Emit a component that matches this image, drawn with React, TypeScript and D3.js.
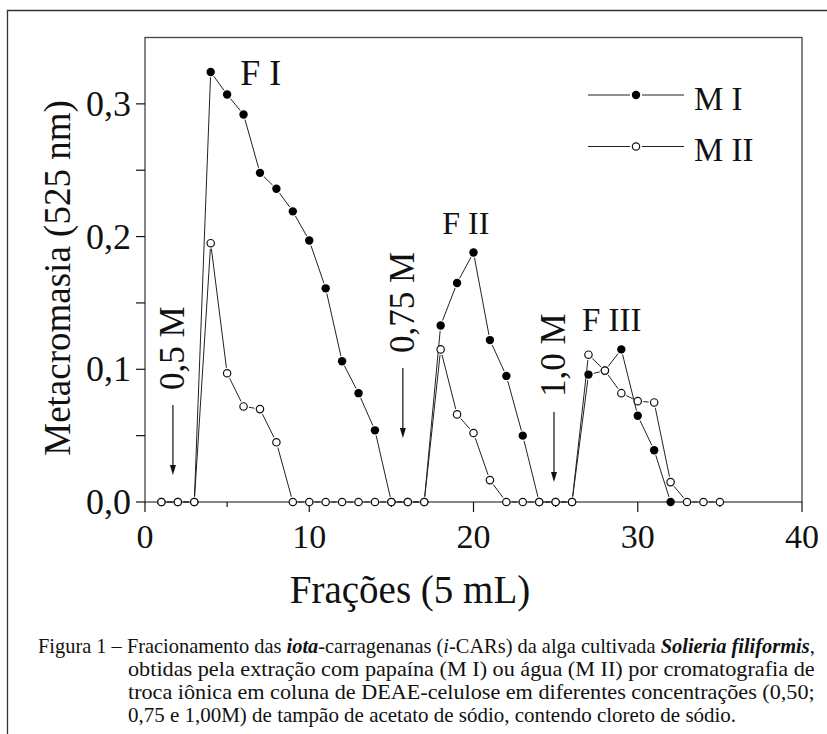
import React, { useLayoutEffect, useRef, useState } from 'react';
import * as d3 from 'd3';

// fraction numbers and metachromasia readings (525 nm)
const fractionsMI = [1, 2, 3, 4, 5, 6, 7, 8, 9, 10, 11, 12, 13, 14, 15, 16, 17, 18, 19, 20, 21, 22, 23, 24, 25, 26, 27, 28, 29, 30, 31, 32];
const valuesMI = [0, 0, 0, 0.324, 0.307, 0.292, 0.248, 0.236, 0.219, 0.197, 0.161, 0.106, 0.082, 0.054, 0, 0, 0, 0.133, 0.165, 0.188, 0.122, 0.095, 0.05, 0, 0, 0, 0.096, 0.099, 0.115, 0.065, 0.039, 0];

const fractionsMII = [1, 2, 3, 4, 5, 6, 7, 8, 9, 10, 11, 12, 13, 14, 15, 16, 17, 18, 19, 20, 21, 22, 23, 24, 25, 26, 27, 28, 29, 30, 31, 32, 33, 34, 35];
const valuesMII = [0, 0, 0, 0.195, 0.097, 0.072, 0.07, 0.045, 0, 0, 0, 0, 0, 0, 0, 0, 0, 0.115, 0.066, 0.052, 0.0165, 0, 0, 0, 0, 0, 0.111, 0.099, 0.082, 0.076, 0.075, 0.015, 0, 0, 0];

const xTicks = [0, 10, 20, 30, 40];
const xMinorTicks = [5, 15, 25, 35];
const yTicks = [0, 0.1, 0.2, 0.3];
const yMinorTicks = [0.05, 0.15, 0.25];

// buffer additions (arrows) and peak labels
const buffers = [
  { x: 1.7, label: '0,5 M', top: 405, textBottom: 390 },
  { x: 15.7, label: '0,75 M', top: 368, textBottom: 353 },
  { x: 24.9, label: '1,0 M', top: 412, textBottom: 397 },
];
const peaks = [
  { x: 5.8, y: 0.314, label: 'F I', size: 36 },
  { x: 18.1, y: 0.202, label: 'F II', size: 32 },
  { x: 26.6, y: 0.129, label: 'F III', size: 33 },
];

const W = 827;
const H = 734;
const FONT = "'Liberation Serif', 'Times New Roman', Times, serif";
const INK = '#111';

const x = d3.scaleLinear().domain([0, 40]).range([145, 802]);
const y = d3.scaleLinear().domain([0, 0.35]).range([502, 37.5]);

function gappedSegments(xs: number[], ys: number[], gap: number) {
  const pts = xs.map((d, i) => [x(d), y(ys[i])]);
  const segs: string[] = [];
  for (let i = 0; i < pts.length - 1; i++) {
    const [x0, y0] = pts[i];
    const [x1, y1] = pts[i + 1];
    const len = Math.hypot(x1 - x0, y1 - y0);
    if (len <= gap * 2) continue;
    const ux = (x1 - x0) / len;
    const uy = (y1 - y0) / len;
    const p = d3.path();
    p.moveTo(x0 + ux * gap, y0 + uy * gap);
    p.lineTo(x1 - ux * gap, y1 - uy * gap);
    segs.push(p.toString());
  }
  return segs;
}

// caption line squeezed horizontally to a target width (the scan is condensed)
function CaptionLine({ x0, y0, width, children }: { x0: number; y0: number; width: number; children: React.ReactNode }) {
  const ref = useRef<SVGTextElement>(null);
  const [sx, setSx] = useState(0.9);
  useLayoutEffect(() => {
    if (ref.current) {
      const w = ref.current.getBBox().width;
      if (w > 0) setSx(width / w);
    }
  }, [width]);
  return (
    <g transform={`translate(${x0},${y0}) scale(${sx},1)`}>
      <text ref={ref} x={0} y={0}>{children}</text>
    </g>
  );
}

export default function App() {
  const segMI = gappedSegments(fractionsMI, valuesMI, 5.3);
  const segMII = gappedSegments(fractionsMII, valuesMII, 5.5);

  return (
    <svg width={W} height={H} style={{ position: 'absolute', left: 0, top: 0, background: '#fff', fontFamily: FONT }}>
      {/* outer figure frame */}
      <path d={`M7.5,${H} V10.5 H${W}`} fill="none" stroke="#333" strokeWidth={1.3} />

      {/* plot box */}
      <rect x={145} y={37.5} width={657} height={464.5} fill="none" stroke="#444" strokeWidth={1.3} />

      {/* x axis ticks */}
      {xTicks.map(t => (
        <g key={'xt' + t}>
          <line x1={x(t)} x2={x(t)} y1={502} y2={512} stroke={INK} strokeWidth={1.2} />
          <text x={x(t)} y={548} textAnchor="middle" fontSize={34} fill={INK}>{t}</text>
        </g>
      ))}
      {xMinorTicks.map(t => (
        <line key={'xm' + t} x1={x(t)} x2={x(t)} y1={502} y2={507} stroke={INK} strokeWidth={1.2} />
      ))}

      {/* y axis ticks */}
      {yTicks.map(t => (
        <g key={'yt' + t}>
          <line x1={136} x2={145} y1={y(t)} y2={y(t)} stroke={INK} strokeWidth={1.2} />
          <text x={131} y={y(t) + 12} textAnchor="end" fontSize={36} fill={INK}>{d3.format('.1f')(t).replace('.', ',')}</text>
        </g>
      ))}
      {yMinorTicks.map(t => (
        <line key={'ym' + t} x1={136} x2={145} y1={y(t)} y2={y(t)} stroke={INK} strokeWidth={1.2} />
      ))}

      {/* axis titles */}
      <text x={410} y={603} textAnchor="middle" fontSize={39} fill={INK}>Frações (5 mL)</text>
      <text transform="translate(70,278) rotate(-90)" textAnchor="middle" fontSize={37} fill={INK}>Metacromasia (525 nm)</text>

      {/* series lines */}
      {segMI.map((d, i) => <path key={'lmi' + i} d={d} stroke="#222" strokeWidth={1} fill="none" />)}
      {segMII.map((d, i) => <path key={'lmii' + i} d={d} stroke="#222" strokeWidth={1} fill="none" />)}

      {/* markers */}
      {fractionsMI.map((f, i) => (
        <circle key={'mi' + i} cx={x(f)} cy={y(valuesMI[i])} r={4.2} fill="#000" />
      ))}
      {fractionsMII.map((f, i) => (
        <circle key={'mii' + i} cx={x(f)} cy={y(valuesMII[i])} r={3.7} fill="#fff" stroke="#111" strokeWidth={1.2} />
      ))}

      {/* buffer arrows and labels */}
      {buffers.map(b => (
        <g key={b.label}>
          <line x1={x(b.x)} x2={x(b.x)} y1={b.top} y2={b.top + 62} stroke={INK} strokeWidth={1.2} />
          <path d={`M${x(b.x) - 3},${b.top + 60} L${x(b.x) + 3},${b.top + 60} L${x(b.x)},${b.top + 70} Z`} fill={INK} />
          <text transform={`translate(${x(b.x) + 11},${b.textBottom}) rotate(-90)`} fontSize={35} fill={INK}>{b.label}</text>
        </g>
      ))}

      {/* peak labels */}
      {peaks.map(p => (
        <text key={p.label} x={x(p.x)} y={y(p.y)} fontSize={p.size} fill={INK}>{p.label}</text>
      ))}

      {/* legend */}
      <g>
        <line x1={588} x2={630} y1={95} y2={95} stroke="#222" strokeWidth={1} />
        <line x1={642} x2={684} y1={95} y2={95} stroke="#222" strokeWidth={1} />
        <circle cx={636} cy={95} r={4.2} fill="#000" />
        <text x={694} y={110} fontSize={33} fill={INK}>M I</text>
        <line x1={588} x2={630} y1={146.5} y2={146.5} stroke="#222" strokeWidth={1} />
        <line x1={642} x2={684} y1={146.5} y2={146.5} stroke="#222" strokeWidth={1} />
        <circle cx={636} cy={146.5} r={3.7} fill="#fff" stroke="#111" strokeWidth={1.2} />
        <text x={694} y={161} fontSize={33} fill={INK}>M II</text>
      </g>

      {/* caption */}
      <g fontSize={21} fill={INK}>
        <CaptionLine x0={38} y0={653} width={777}>
          Figura 1 – Fracionamento das <tspan fontWeight="bold" fontStyle="italic">iota</tspan>-carragenanas (<tspan fontStyle="italic">i</tspan>-CARs) da alga cultivada <tspan fontWeight="bold" fontStyle="italic">Solieria filiformis</tspan>,
        </CaptionLine>
        <CaptionLine x0={128} y0={676} width={687}>
          obtidas pela extração com papaína (M I) ou água (M II) por cromatografia de
        </CaptionLine>
        <CaptionLine x0={128} y0={699} width={687}>
          troca iônica em coluna de DEAE-celulose em diferentes concentrações (0,50;
        </CaptionLine>
        <CaptionLine x0={128} y0={722} width={608}>
          0,75 e 1,00M) de tampão de acetato de sódio, contendo cloreto de sódio.
        </CaptionLine>
      </g>
    </svg>
  );
}
